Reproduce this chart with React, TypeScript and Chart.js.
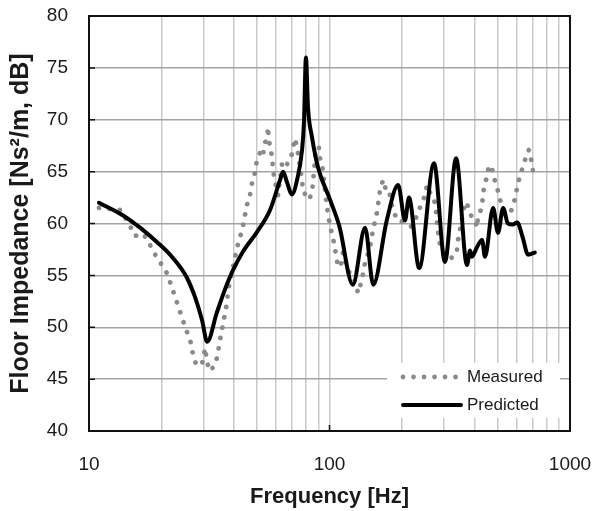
import React, { useEffect, useRef } from 'react';
import { Chart, registerables } from 'chart.js';

Chart.register(...registerables);

// ---- data ----
const measuredFreq = [
  11.0, 12.2, 13.5, 14.8, 15.5, 16.8, 17.8, 18.6, 19.7, 20.9, 21.7, 23.2, 24.8, 26.6, 27.1, 27.9,
  29.5, 30.4, 30.9, 31.6, 33.1, 34.1, 34.7, 35.4, 36.1, 36.8, 37.5, 37.8, 38.6, 39.7, 41.3, 42.5,
  43.7, 44.5, 45.4, 46.7, 47.6, 49.0, 49.5, 51.4, 52.9, 53.4, 55.0, 55.5, 56.0, 57.7, 58.2, 58.8,
  61.1, 63.5, 65.3, 69.2, 70.5, 71.9, 73.3, 76.9, 77.6, 80.6, 82.2, 84.6, 85.4, 87.9, 90.4, 91.3,
  93.1, 95.8, 98.6, 101.4, 103.4, 105.4, 108.5, 111.6, 113.8, 118.2, 124.1, 127.7, 131.4, 136.5,
  140.5, 147.4, 151.7, 157.6, 162.2, 167.0, 171.8, 176.8, 181.9, 190.9, 200.2, 210.0, 218.2, 226.8,
  233.3, 242.4, 249.5, 254.3, 261.7, 274.6, 282.6, 288.1, 299.4, 308.1, 317.0, 326.3, 338.9, 342.2,
  348.8, 359.0, 365.9, 372.9, 376.6, 383.9, 391.3, 402.7, 410.5, 414.5, 430.6, 434.8, 443.2, 451.8,
  460.5, 474.0, 478.5, 497.2, 511.7, 526.6, 547.2, 563.1, 579.5, 596.4, 607.9, 631.6, 650.1, 662.6,
  675.4, 695.0, 701.7,
];
const measuredLevel = [
  61.5, 61.4, 61.3, 59.8, 58.8, 59.0, 58.1, 57.2, 56.3, 55.4, 54.4, 52.4, 50.4, 48.4, 47.3, 46.4,
  46.4, 48.0, 46.8, 45.8, 46.2, 47.1, 48.2, 49.3, 50.3, 51.4, 52.4, 53.4, 54.5, 55.8, 57.7, 58.7,
  59.8, 60.8, 61.8, 62.7, 63.9, 64.9, 65.7, 66.8, 66.4, 67.5, 68.3, 69.3, 68.0, 66.4, 65.3, 64.5,
  62.7, 65.8, 65.4, 66.3, 67.3, 68.2, 67.3, 64.2, 63.0, 62.7, 62.3, 63.0, 64.0, 67.3, 67.3, 66.3,
  65.8, 63.2, 60.8, 59.4, 58.6, 57.6, 55.8, 56.0, 57.2, 55.8, 54.7, 54.4, 53.3, 54.6,
  56.2, 57.7, 59.4, 61.1, 63.2, 64.2, 63.2, 63.2, 61.7, 60.3, 60.2, 59.9, 59.7, 60.3,
  61.1, 62.0, 62.7, 63.7, 63.0, 62.0, 59.2, 57.9, 57.0, 56.7, 56.7, 56.7, 57.4, 58.4,
  59.4, 61.0, 62.0, 62.0, 61.6, 61.1, 60.5, 60.3, 59.6, 60.6, 61.6, 62.9, 63.9, 64.5,
  65.6, 65.4, 64.7, 63.5, 62.3, 61.3, 61.0, 61.0, 61.6, 62.9, 63.9, 65.2, 66.1, 66.9,
  67.1, 65.8, 65.0,
];
const predictedFreq = [
  11.0, 13.8, 16.3, 19.2, 22.3, 25.5, 27.6, 29.5, 31.0, 34.0, 36.7, 39.7, 43.7, 50.0, 56.6, 62.3,
  64.1, 66.5, 69.8, 73.3, 76.9, 78.3, 79.8, 81.4, 84.6, 89.6, 100.5, 110.0, 125.0, 140.6, 152.0,
  173.0, 193.0, 206.0, 214.0, 236.0, 272.0, 302.0, 336.0, 373.0, 384.0, 391.0, 410.0, 431.0, 443.0,
  479.0, 502.0, 527.0, 552.0, 578.0, 603.0, 635.0, 669.0, 714.0,
];
const predictedLevel = [
  62.0, 60.8, 59.6, 58.2, 56.7, 54.8, 52.9, 50.7, 48.6, 51.4, 53.6, 55.5, 57.3, 59.2, 61.3, 64.2,
  65.0, 64.0, 62.8, 64.2, 67.1, 69.7, 76.0, 71.2, 68.3, 65.4, 62.3, 59.7, 54.1, 59.6, 54.1,
  60.3, 63.7, 60.3, 62.5, 55.7, 65.8, 56.3, 66.3, 56.0, 57.4, 56.8, 57.7, 58.4, 56.8,
  61.5, 59.1, 61.5, 60.0, 59.9, 60.1, 58.7, 57.0, 57.2,
];
const seriesNames = ['Measured', 'Predicted'];
const yTicks = [40, 45, 50, 55, 60, 65, 70, 75, 80];
const xGridTicks = [10, 20, 30, 40, 50, 60, 70, 80, 90, 100, 200, 300, 400, 500, 600, 700, 800, 900, 1000];
const xLabelTicks = [10, 100, 1000];
const xTitle = 'Frequency [Hz]';
const yTitle = 'Floor Impedance [Ns²/m, dB]';

const FONT = "'Liberation Sans', Arial, sans-serif";
const TEXT = '#1a1a1a';
const MEAS_COLOR = '#8a8a8a';

const framePlugin = {
  id: 'frameAndLegend',
  beforeDatasetsDraw(chart: any) {
    const { ctx, chartArea: a } = chart;
    const bw = 173, bh = 55;
    const bx = a.right - 10 - bw, by = a.bottom - 13 - bh;
    ctx.save();
    ctx.fillStyle = '#ffffff';
    ctx.fillRect(bx, by, bw, bh);
    ctx.restore();
  },
  afterDatasetsDraw(chart: any) {
    const { ctx, chartArea: a, scales } = chart;
    const bw = 173, bh = 55;
    const bx = a.right - 10 - bw, by = a.bottom - 13 - bh;
    ctx.save();
    // legend: measured
    ctx.strokeStyle = MEAS_COLOR;
    ctx.lineWidth = 4.8;
    ctx.lineCap = 'round';
    ctx.setLineDash([0.01, 10.5]);
    ctx.beginPath();
    ctx.moveTo(bx + 16, by + 14);
    ctx.lineTo(bx + 71, by + 14);
    ctx.stroke();
    // legend: predicted
    ctx.setLineDash([]);
    ctx.strokeStyle = '#000';
    ctx.lineWidth = 4;
    ctx.lineCap = 'round';
    ctx.beginPath();
    ctx.moveTo(bx + 16, by + 42);
    ctx.lineTo(bx + 74, by + 42);
    ctx.stroke();
    ctx.fillStyle = TEXT;
    ctx.font = `17px ${FONT}`;
    ctx.textBaseline = 'middle';
    ctx.textAlign = 'left';
    ctx.fillText(seriesNames[0], bx + 80, by + 14);
    ctx.fillText(seriesNames[1], bx + 80, by + 42);
    // inner tick marks
    ctx.strokeStyle = '#111';
    ctx.lineWidth = 1.5;
    ctx.lineCap = 'butt';
    ctx.beginPath();
    yTicks.forEach((v) => {
      const y = scales.y.getPixelForValue(v);
      ctx.moveTo(a.left, y);
      ctx.lineTo(a.left + 6, y);
    });
    xLabelTicks.forEach((v) => {
      const x = scales.x.getPixelForValue(v);
      ctx.moveTo(x, a.bottom);
      ctx.lineTo(x, a.bottom - 6);
    });
    ctx.stroke();
    // frame
    ctx.strokeStyle = '#111';
    ctx.lineWidth = 2;
    ctx.strokeRect(a.left, a.top, a.right - a.left, a.bottom - a.top);
    ctx.restore();
  },
};

export default function App() {
  const ref = useRef<HTMLCanvasElement>(null);
  useEffect(() => {
    const chart = new Chart(ref.current as HTMLCanvasElement, {
      type: 'line',
      data: {
        datasets: [
          {
            label: seriesNames[0],
            data: measuredFreq.map((f, i) => ({ x: f, y: measuredLevel[i] })),
            borderColor: MEAS_COLOR,
            borderWidth: 4.8,
            borderDash: [0.01, 10.5],
            borderCapStyle: 'round',
            borderJoinStyle: 'round',
            pointRadius: 0,
            tension: 0,
            fill: false,
            order: 2,
          },
          {
            label: seriesNames[1],
            data: predictedFreq.map((f, i) => ({ x: f, y: predictedLevel[i] })),
            borderColor: '#000000',
            borderWidth: 4,
            borderJoinStyle: 'round',
            borderCapStyle: 'round',
            pointRadius: 0,
            cubicInterpolationMode: 'monotone',
            fill: false,
            order: 1,
          },
        ],
      } as any,
      options: {
        animation: false,
        responsive: false,
        maintainAspectRatio: false,
        layout: { padding: { top: 16, right: 22, left: 0, bottom: 0 } },
        plugins: { legend: { display: false }, tooltip: { enabled: false } },
        scales: {
          x: {
            type: 'logarithmic',
            min: 10,
            max: 1000,
            afterBuildTicks: (s: any) => {
              s.ticks = xGridTicks.map((v) => ({ value: v }));
            },
            afterFit: (s: any) => {
              s.height = 80;
              s.paddingLeft = 0;
              s.paddingRight = 0;
              s.paddingTop = 0;
              s.paddingBottom = 0;
            },
            ticks: {
              autoSkip: false,
              maxRotation: 0,
              padding: 22,
              color: TEXT,
              font: { family: FONT, size: 19 },
              callback: (v: any) => (xLabelTicks.includes(Number(v)) ? String(v) : ''),
            },
            grid: { color: '#c9c9c9', lineWidth: 1.5, drawTicks: false },
            border: { display: false },
            title: {
              display: true,
              text: xTitle,
              color: TEXT,
              font: { family: FONT, size: 22, weight: 'bold' },
              padding: { top: 0, bottom: 1 },
            },
          },
          y: {
            min: 40,
            max: 80,
            afterBuildTicks: (s: any) => {
              s.ticks = yTicks.map((v) => ({ value: v }));
            },
            afterFit: (s: any) => {
              s.width = 89;
              s.paddingLeft = 0;
              s.paddingRight = 0;
              s.paddingTop = 0;
              s.paddingBottom = 0;
            },
            ticks: {
              padding: 21,
              color: TEXT,
              font: { family: FONT, size: 19 },
            },
            grid: { color: '#a3a3a3', lineWidth: 1.5, drawTicks: false },
            border: { display: false },
            title: {
              display: true,
              text: yTitle,
              color: TEXT,
              font: { family: FONT, size: 25, weight: 'bold' },
              padding: { top: 6, bottom: 0 },
            },
          },
        },
      } as any,
      plugins: [framePlugin],
    });
    return () => chart.destroy();
  }, []);
  return (
    <div style={{ position: 'absolute', left: 0, top: 0, width: 592, height: 511, background: '#fff' }}>
      <canvas ref={ref} width={592} height={511} style={{ display: 'block', width: 592, height: 511 }} />
    </div>
  );
}
